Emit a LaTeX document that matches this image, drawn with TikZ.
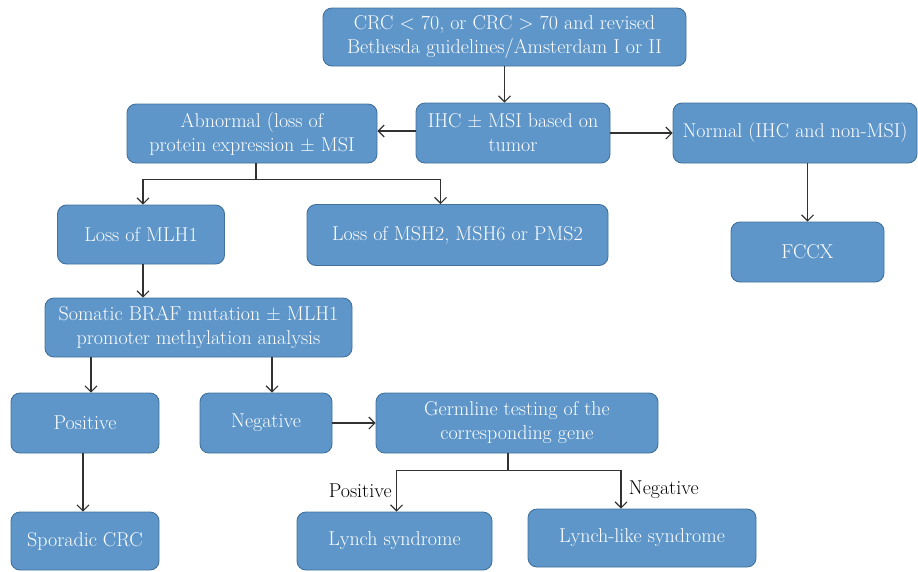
\documentclass[tikz,border=0pt]{standalone}
\usepackage{tikz}
\usetikzlibrary{arrows.meta}
\definecolor{boxfill}{RGB}{95,150,201}
\definecolor{boxline}{RGB}{65,113,156}
\definecolor{linkgray}{RGB}{50,50,50}
\tikzset{
  box/.style={draw=boxline, fill=boxfill, line width=0.9pt, rounded corners=9pt,
    text=white, align=center, inner sep=0pt, font=\fontsize{20}{24}\selectfont},
  arr/.style={draw=linkgray, line width=1.1pt, -{Straight Barb[length=6pt,width=12pt]}},
  link/.style={draw=linkgray, line width=1.1pt},
  tag/.style={font=\fontsize{20}{24}\selectfont, text=black}
}
\begin{document}
\begin{tikzpicture}[x=1pt,y=-1pt]
      \useasboundingbox (0,0) rectangle (918,571);
      % boxes
      \node[box, minimum width=363, minimum height=58] (crc) at (504.5,37)
        {CRC < 70, or CRC > 70 and revised\\Bethesda guidelines/Amsterdam I or II};
      \node[box, minimum width=194, minimum height=60] (ihc) at (513,133)
        {IHC ± MSI based on\\tumor};
      \node[box, minimum width=250, minimum height=59] (abn) at (252,133.5)
        {Abnormal (loss of\\protein expression ± MSI};
      \node[box, minimum width=244, minimum height=60] (norm) at (795,133)
        {Normal (IHC and non-MSI)};
      \node[box, minimum width=167, minimum height=59] (mlh) at (141,234.5)
        {Loss of MLH1};
      \node[box, minimum width=301, minimum height=61] (msh) at (457.5,235)
        {Loss of MSH2, MSH6 or PMS2};
      \node[box, minimum width=153, minimum height=60] (fccx) at (807.5,252)
        {FCCX};
      \node[box, minimum width=307, minimum height=59] (braf) at (198.5,327.5)
        {Somatic BRAF mutation ± MLH1\\promoter methylation analysis};
      \node[box, minimum width=148, minimum height=60] (pos) at (85,423)
        {Positive};
      \node[box, minimum width=132, minimum height=60] (neg) at (266,423)
        {Negative};
      \node[box, minimum width=282, minimum height=60] (germ) at (517,423)
        {Germline testing of the\\corresponding gene};
      \node[box, minimum width=148, minimum height=58] (spor) at (85,541)
        {Sporadic CRC};
      \node[box, minimum width=195, minimum height=58] (lyn) at (394.5,541)
        {Lynch syndrome};
      \node[box, minimum width=228, minimum height=58] (lyl) at (642,538)
        {Lynch-like syndrome};
      % connectors
      \draw[arr] (crc.south) -- (crc.south |- ihc.north);
      \draw[arr] ([yshift=2]ihc.west) -- ([yshift=2]ihc.west -| abn.east);
      \draw[arr] (ihc.east) -- (norm.west);
      \draw[link] ([xshift=4]abn.south) -- ++(0,16) coordinate (absplit);
      \draw[arr] (absplit) -| ([xshift=2]mlh.north);
      \draw[arr] (absplit) -| ([xshift=-17]msh.north);
      \draw[arr] (fccx.north |- norm.south) -- (fccx.north);
      \draw[arr] ([xshift=2]mlh.south) -- ([xshift=2]mlh.south |- braf.north);
      \draw[arr] ([xshift=6]pos.north |- braf.south) -- ([xshift=6]pos.north);
      \draw[arr] ([xshift=6]neg.north |- braf.south) -- ([xshift=6]neg.north);
      \draw[arr] (neg.east) -- (germ.west);
      \draw[arr] ([xshift=-2]pos.south) -- ([xshift=-2]spor.north);
      \draw[link] ([xshift=-9]germ.south) -- ++(0,17) coordinate (gsplit);
      \draw[arr] (gsplit) -| ([xshift=2]lyn.north)
        node[tag, pos=0.75, left=1pt] (postag) {Positive};
      \draw[arr] (gsplit) -| ([xshift=-21]lyl.north)
        node[tag, pos=0.75, right=4pt] (negtag) {Negative};
\end{tikzpicture}
\end{document}
